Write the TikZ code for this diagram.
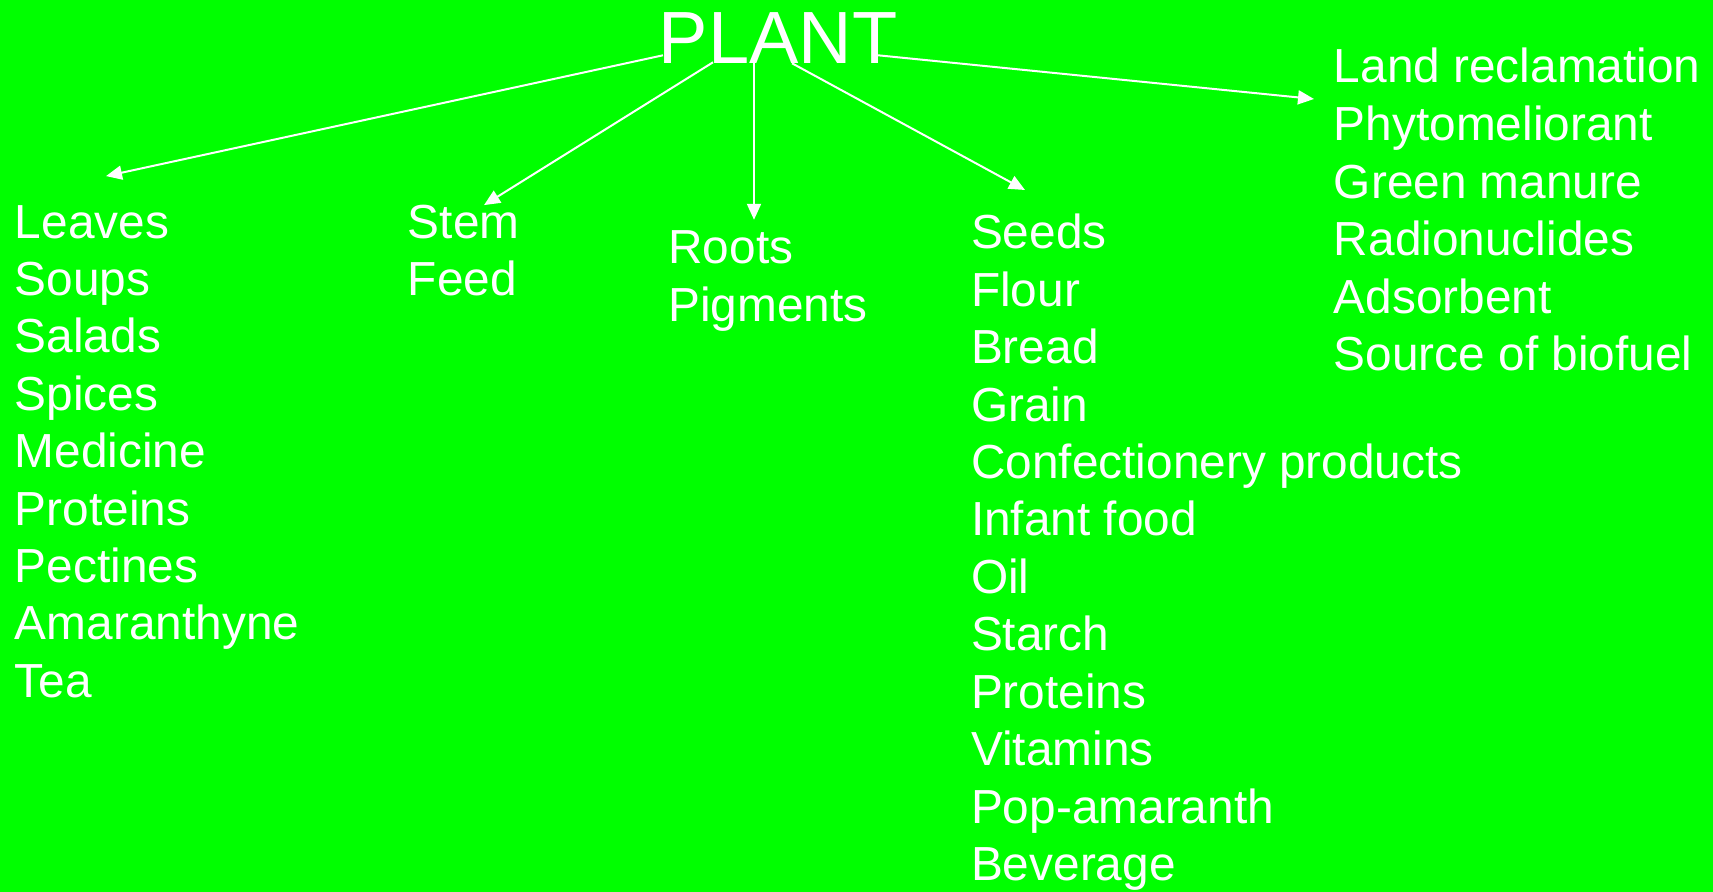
\documentclass[tikz,border=0pt]{standalone}
\usepackage{fontspec}
\setmainfont{Liberation Sans}
\usepackage{tikz}
\usetikzlibrary{arrows.meta, calc}

\definecolor{plantgreen}{RGB}{0,255,0}

\begin{document}
\begin{tikzpicture}[x=0.5pt, y=-0.5pt,
  item/.style={anchor=base west, inner sep=0pt, text=white, font=\fontsize{23.9}{28}\selectfont},
  link/.style={draw=white, line width=1pt, -{Triangle[length=8pt, width=7pt]}}]

% background, slide size in px
\fill[plantgreen] (0,0) rectangle (1713,892);
\useasboundingbox (0,0) rectangle (1713,892);

% title
\node[anchor=base, inner sep=0pt, text=white, font=\fontsize{37}{40}\selectfont] (plant) at (778,63.3) {PLANT};

% Leaves column (x = 14.5, step 57.4)
\node[item] (leaves)   at (14.5,238.1) {Leaves};
\node[item] (soups)    at (14.5,295.5) {Soups};
\node[item] (salads)   at (14.5,352.9) {Salads};
\node[item] (spices)   at (14.5,410.3) {Spices};
\node[item] (medicine) at (14.5,467.7) {Medicine};
\node[item] (lprot)    at (14.5,525.1) {Proteins};
\node[item] (pectines) at (14.5,582.5) {Pectines};
\node[item] (amaran)   at (14.5,639.9) {Amaranthyne};
\node[item] (tea)      at (14.5,697.3) {Tea};

% Stem column
\node[item] (stem) at (407.5,238.1) {Stem};
\node[item] (feed) at (407.5,295.5) {Feed};

% Roots column
\node[item] (roots)    at (668,263.8) {Roots};
\node[item] (pigments) at (668,321.2) {Pigments};

% Seeds column (x = 970.7)
\node[item] (seeds)   at (970.7,249.0) {Seeds};
\node[item] (flour)   at (970.7,306.4) {Flour};
\node[item] (bread)   at (970.7,363.8) {Bread};
\node[item] (grain)   at (970.7,421.2) {Grain};
\node[item] (confect) at (970.7,478.6) {Confectionery products};
\node[item] (infant)  at (970.7,536.0) {Infant food};
\node[item] (oil)     at (970.7,593.4) {Oil};
\node[item] (starch)  at (970.7,650.8) {Starch};
\node[item] (sprot)   at (970.7,708.2) {Proteins};
\node[item] (vitamin) at (970.7,765.6) {Vitamins};
\node[item] (popam)   at (970.7,823.0) {Pop-amaranth};
\node[item] (bever)   at (970.7,880.4) {Beverage};

% whole plant column (x = 1333.5)
\node[item] (land)    at (1333.5,83.0)  {Land reclamation};
\node[item] (phyto)   at (1333.5,140.6) {Phytomeliorant};
\node[item] (manure)  at (1333.5,198.2) {Green manure};
\node[item] (radio)   at (1333.5,255.8) {Radionuclides};
\node[item] (adsorb)  at (1333.5,313.4) {Adsorbent};
\node[item] (biofuel) at (1333.5,371.0) {Source of biofuel};

% arrows out of PLANT
\draw[link] ($(plant.base)+(-115,-8)$) -- ($(leaves.base west)+(91.5,-62)$);
\draw[link] ($(plant.base)+(-65,-1)$) -- ($(stem.base west)+(76.5,-33)$);
\draw[link] ($(plant.base)+(-24,0)$) -- ($(roots.base west)+(86,-44)$);
\draw[link] ($(plant.base)+(14,0)$) -- ($(seeds.base west)+(54.3,-59)$);
\draw[link] ($(plant.base)+(100,-8)$) -- ($(land.base west)+(-19.5,16)$);

\end{tikzpicture}
\end{document}
